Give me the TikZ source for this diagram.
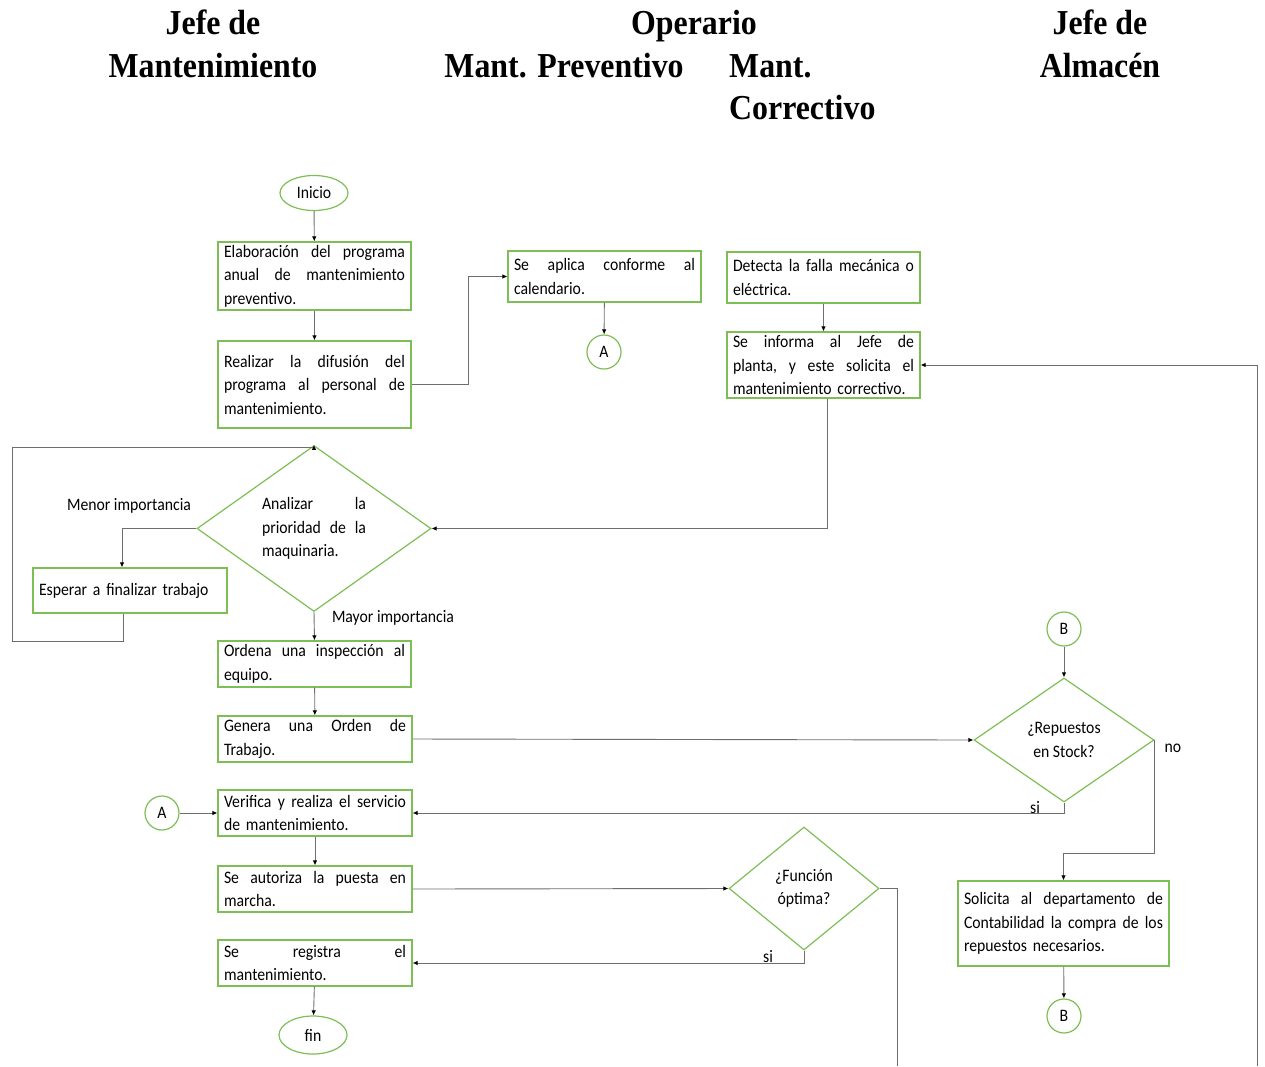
\documentclass[tikz,border=0pt]{standalone}
\usepackage{fontspec}
\setmainfont{Carlito}[FakeStretch=0.9]
\newfontfamily\headfont{Liberation Serif}[FakeStretch=0.91]
\usetikzlibrary{shapes.geometric,arrows.meta}
\definecolor{bgreen}{RGB}{125,190,85}
\definecolor{lgray}{RGB}{110,110,110}
\newlength\jw
\newcommand\jl[1]{\leavevmode\hbox to \jw{#1}}
\begin{document}
\begin{tikzpicture}[x=1pt,y=-1pt,
  font=\fontsize{17.5}{23.5}\selectfont,
  jwd/.code={\setlength{\jw}{#1}},
  box/.style={draw=bgreen,line width=1.2pt,rectangle,inner xsep=6pt,inner ysep=0pt,align=left},
  dia/.style={draw=bgreen,line width=1.2pt,diamond,inner sep=0pt,align=center},
  ell/.style={draw=bgreen,line width=1.2pt,ellipse,inner sep=0pt},
  circ/.style={draw=bgreen,line width=1.2pt,circle,minimum size=34pt,inner sep=0pt},
  hd/.style={font=\headfont\bfseries\fontsize{35}{40}\selectfont,anchor=base,inner sep=0pt},
  arr/.style={draw=lgray,line width=0.9pt,-{Latex[length=5pt,width=4.5pt,color=black]}},
  ln/.style={draw=lgray,line width=0.9pt},
  lab/.style={inner sep=0pt}]
\useasboundingbox (0,0) rectangle (1265,1066);
% headers
\node[hd] (hjm1) at (213,34) {Jefe de};
\node[hd] (hjm2) at (213,77) {Mantenimiento};
\node[hd] (hop) at (694,34) {Operario};
\node[hd] (hmp) at (564,77) {Mant. Preventivo};
\node[hd,anchor=base west] (hmc1) at (729,77) {Mant.};
\node[hd,anchor=base west] (hmc2) at (729,119) {Correctivo};
\node[hd] (hja1) at (1100,34) {Jefe de};
\node[hd] (hja2) at (1100,77) {Almacén};
% nodes
\node[ell,minimum width=68pt,minimum height=35pt] (ini) at (314,193) {Inicio};
\node[box,jwd=181pt,text width=181pt,minimum height=68pt] (e1) at (314.5,276) {\jl{Elaboración\hfill del\hfill programa}\\\jl{anual\hfill de\hfill mantenimiento}\\preventivo.};
\node[box,jwd=181pt,text width=181pt,minimum height=87pt] (e2) at (314.5,384.5) {\jl{Realizar\hfill la\hfill difusión\hfill del}\\\jl{programa\hfill al\hfill personal\hfill de}\\mantenimiento.};
\node[box,jwd=181pt,text width=181pt,minimum height=51pt] (e3) at (604.5,276.5) {\jl{Se\hfill aplica\hfill conforme\hfill al}\\calendario.};
\node[circ] (A1) at (604,352) {A};
\node[box,jwd=181pt,text width=181pt,minimum height=51pt] (c1) at (823.5,277.5) {\jl{Detecta\hfill la\hfill falla\hfill mecánica\hfill o}\\eléctrica.};
\node[box,jwd=181pt,text width=181pt,minimum height=66pt] (c2) at (823.5,365) {\jl{Se\hfill informa\hfill al\hfill Jefe\hfill de}\\\jl{planta,\hfill y\hfill este\hfill solicita\hfill el}\\mantenimiento correctivo.};
\node[dia,jwd=104pt,text width=104pt,align=left,minimum width=234pt,minimum height=123pt] (d1) at (314,528.5) {\jl{Analizar\hfill la}\\\jl{prioridad\hfill de\hfill la}\\maquinaria.};
\node[box,text width=182pt,minimum height=45pt] (w1) at (130,590.5) {Esperar a finalizar trabajo};
\node[box,jwd=181pt,text width=181pt,minimum height=46pt] (o1) at (314.5,664) {\jl{Ordena\hfill una\hfill inspección\hfill al}\\equipo.};
\node[box,jwd=182pt,text width=182pt,minimum height=46pt] (g1) at (315,739) {\jl{Genera\hfill una\hfill Orden\hfill de}\\Trabajo.};
\node[box,jwd=182pt,text width=182pt,minimum height=46pt] (v1) at (315,813) {\jl{Verifica\hfill y\hfill realiza\hfill el\hfill servicio}\\de mantenimiento.};
\node[circ] (A2) at (162,813) {A};
\node[box,jwd=182pt,text width=182pt,minimum height=46pt] (a1) at (315,889) {\jl{Se\hfill autoriza\hfill la\hfill puesta\hfill en}\\marcha.};
\node[box,jwd=182pt,text width=182pt,minimum height=46pt] (r1) at (315,963) {\jl{Se\hfill registra\hfill el}\\mantenimiento.};
\node[ell,minimum width=68pt,minimum height=38pt] (fin) at (313,1035) {fin};
\node[dia,minimum width=150pt,minimum height=123pt] (d2) at (804,888.5) {¿Función\\óptima?};
\node[dia,minimum width=180pt,minimum height=124pt] (d3) at (1064,740) {¿Repuestos\\en Stock?};
\node[circ] (B1) at (1064,629) {B};
\node[box,jwd=199pt,text width=199pt,minimum height=85pt] (s1) at (1063.5,923.5) {\jl{Solicita\hfill al\hfill departamento\hfill de}\\\jl{Contabilidad\hfill la\hfill compra\hfill de\hfill los}\\repuestos necesarios.};
\node[circ] (B2) at (1064,1016) {B};
% labels
\node[lab] (lmen) at (129,506) {Menor importancia};
\node[lab] (lmay) at (393,618) {Mayor importancia};
\node[lab] (lsi1) at (1035,808) {si};
\node[lab] (lno) at (1173,748) {no};
\node[lab] (lsi2) at (768,957) {si};
% free ends
\coordinate (rb) at (1257,1066);
\coordinate (fb) at (897,1066);
% connectors
\draw[arr] (ini) -- (e1);
\draw[arr] (e1) -- (e2);
\draw[arr] (e2.east) -- ([xshift=57pt]e2.east) |- (e3.west);
\draw[arr] (e3) -- (A1);
\draw[arr] (c1) -- (c2);
\draw[arr] ([xshift=4pt]c2.south) |- (d1.east);
\draw[arr] (rb) |- (c2.east);
\draw[arr] (d1.west) -| ([xshift=-8pt]w1.north);
\draw[arr] ([xshift=-7pt]w1.south) -- ++(0,28) -| (12,447) -| (d1.north);
\draw[arr] (d1.south) -- (o1.north);
\draw[arr] (o1) -- (g1);
\draw[arr] (g1.east) -- (d3.west);
\draw[arr] (B1) -- (d3);
\draw[arr] (d3.south) |- (v1.east);
\draw[arr] (d3.east) -- ++(0,113) -| (s1.north);
\draw[arr] (s1) -- (B2);
\draw[arr] (A2) -- (v1.west);
\draw[arr] (v1) -- (a1);
\draw[arr] (a1.east) -- (d2.west);
\draw[arr] (d2.south) |- (r1.east);
\draw[ln] (d2.east) -- (d2.east -| fb) -- (fb);
\draw[arr] (r1) -- (fin);
\end{tikzpicture}
\end{document}
